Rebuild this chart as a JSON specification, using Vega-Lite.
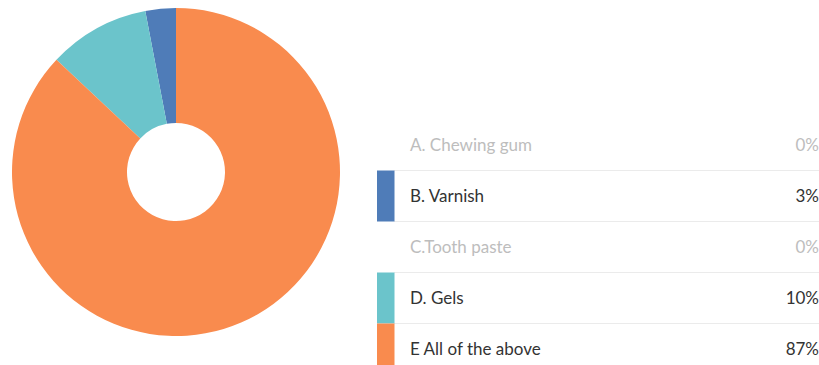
{
  "$schema": "https://vega.github.io/schema/vega-lite/v6.json",
  "padding": 0,
  "spacing": 18,
  "background": "white",
  "config": {"view": {"stroke": null}},
  "datasets": {
    "answers": [
      {"choice": "A. Chewing gum", "key": "A", "pct": 0, "row": 0, "order": 5},
      {"choice": "B. Varnish", "key": "B", "pct": 3, "row": 1, "order": 3},
      {"choice": "C.Tooth paste", "key": "C", "pct": 0, "row": 2, "order": 4},
      {"choice": "D. Gels", "key": "D", "pct": 10, "row": 3, "order": 2},
      {"choice": "E All of the above", "key": "E", "pct": 87, "row": 4, "order": 1}
    ]
  },
  "hconcat": [
    {
      "width": 352,
      "height": 344,
      "data": {"name": "answers"},
      "transform": [{"filter": "datum.pct > 0"}],
      "mark": {"type": "arc", "outerRadius": 164, "innerRadius": 49},
      "encoding": {
        "theta": {"field": "pct", "type": "quantitative", "stack": true},
        "order": {"field": "order", "type": "quantitative"},
        "color": {
          "field": "key",
          "type": "nominal",
          "scale": {"domain": ["B", "D", "E"], "range": ["#4F7CB8", "#6BC4CB", "#F98B4E"]},
          "legend": null
        }
      }
    },
    {
      "width": 449,
      "height": 365,
      "data": {"name": "answers"},
      "transform": [
        {"calculate": "datum.row - 0.5", "as": "top"},
        {"calculate": "datum.row + 0.5", "as": "bottom"},
        {"calculate": "datum.pct + '%'", "as": "label"}
      ],
      "layer": [
        {
          "transform": [{"filter": "datum.row > 0"}],
          "mark": {"type": "rule", "color": "#EBEBEB", "strokeWidth": 1},
          "encoding": {
            "x": {"datum": 24},
            "x2": {"datum": 449},
            "y": {"field": "top", "type": "quantitative"}
          }
        },
        {
          "transform": [{"filter": "datum.pct > 0"}],
          "mark": {"type": "rect"},
          "encoding": {
            "x": {"datum": 7},
            "x2": {"datum": 24.5},
            "y": {"field": "top", "type": "quantitative"},
            "y2": {"field": "bottom"},
            "color": {
              "field": "key",
              "type": "nominal",
              "scale": {"domain": ["B", "D", "E"], "range": ["#4F7CB8", "#6BC4CB", "#F98B4E"]},
              "legend": null
            }
          }
        },
        {
          "mark": {"type": "text", "align": "left", "baseline": "middle", "font": "Lato", "fontSize": 17, "dy": 1.5},
          "encoding": {
            "x": {"datum": 40},
            "y": {"field": "row", "type": "quantitative"},
            "text": {"field": "choice"},
            "color": {"condition": {"test": "datum.pct == 0", "value": "#BDBDBD"}, "value": "#333333"}
          }
        },
        {
          "mark": {"type": "text", "align": "right", "baseline": "middle", "font": "Lato", "fontSize": 17, "dy": 1.5},
          "encoding": {
            "x": {"datum": 449},
            "y": {"field": "row", "type": "quantitative"},
            "text": {"field": "label"},
            "color": {"condition": {"test": "datum.pct == 0", "value": "#BDBDBD"}, "value": "#333333"}
          }
        }
      ],
      "encoding": {
        "x": {"type": "quantitative", "scale": {"domain": [0, 449]}, "axis": null},
        "y": {"type": "quantitative", "scale": {"domain": [-2.843, 4.314], "reverse": true, "zero": false, "nice": false}, "axis": null}
      }
    }
  ]
}
